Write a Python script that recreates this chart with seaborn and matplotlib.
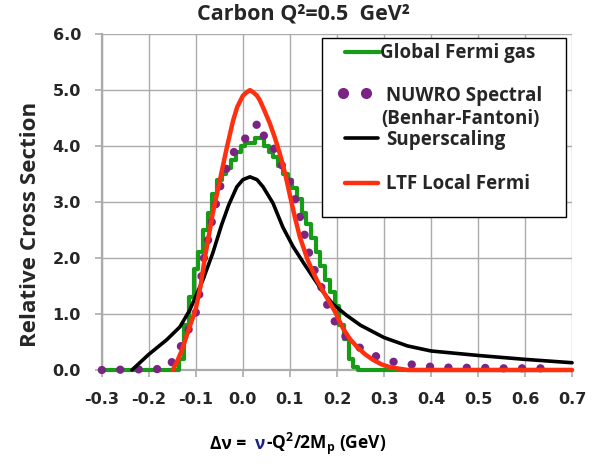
import numpy as np
import pandas as pd
import seaborn as sns
import matplotlib.pyplot as plt
from matplotlib.lines import Line2D
from matplotlib.patches import Rectangle

sns.set_style('white')
plt.rcParams['font.family'] = ['Open Sans', 'DejaVu Sans']
plt.rcParams['mathtext.default'] = 'regular'

###data
# Global Fermi gas (stair-step curve)
gfg_x = [-0.30, -0.15, -0.14, -0.13, -0.12, -0.11, -0.10, -0.09, -0.08, -0.07, -0.06,
         -0.05, -0.04, -0.03, -0.02, -0.01, 0.00, 0.01, 0.02, 0.03, 0.04, 0.05,
         0.06, 0.07, 0.08, 0.09, 0.10, 0.11, 0.12, 0.13, 0.14, 0.15, 0.16,
         0.17, 0.18, 0.19, 0.20, 0.21, 0.22, 0.23, 0.24, 0.25, 0.70]
gfg_y = [0.0, 0.0, 0.0, 0.2, 0.8, 1.3, 1.8, 2.1, 2.5, 2.8, 3.15,
         3.4, 3.5, 3.6, 3.75, 3.9, 4.0, 4.05, 4.05, 4.15, 4.15, 4.0,
         3.9, 3.8, 3.65, 3.5, 3.4, 3.25, 3.05, 2.8, 2.6, 2.35, 2.1,
         1.85, 1.6, 1.4, 1.15, 0.8, 0.55, 0.2, 0.05, 0.0, 0.0]

# NUWRO Spectral (Benhar-Fantoni)
nuwro_x = [-0.30, -0.16, -0.143, -0.127, -0.113, -0.098, -0.09, -0.085, -0.077, -0.066,
           -0.055, -0.045, -0.032, -0.017, -0.002, 0.008, 0.021, 0.036, 0.047, 0.062,
           0.072, 0.094, 0.105, 0.117, 0.125, 0.135, 0.146, 0.16, 0.174, 0.185,
           0.202, 0.223, 0.255, 0.287, 0.323, 0.366, 0.408, 0.45, 0.50, 0.55,
           0.60, 0.67]
nuwro_y = [0.0, 0.02, 0.25, 0.5, 0.77, 1.07, 1.5, 1.93, 2.2, 2.65,
           3.05, 3.39, 3.66, 3.93, 4.12, 4.14, 4.32, 4.43, 4.12, 4.07,
           3.79, 3.52, 3.2, 2.9, 2.6, 2.3, 1.9, 1.65, 1.30, 1.02,
           0.77, 0.55, 0.36, 0.23, 0.14, 0.09, 0.05, 0.04, 0.04, 0.03,
           0.03, 0.03]

# Superscaling
ss_x = [-0.236, -0.2, -0.162, -0.134, -0.113, -0.085, -0.064, -0.045, -0.03, -0.013,
        0.0, 0.015, 0.03, 0.043, 0.064, 0.085, 0.107, 0.13, 0.149, 0.17,
        0.191, 0.22, 0.25, 0.3, 0.35, 0.4, 0.45, 0.5, 0.6, 0.7]
ss_y = [0.0, 0.28, 0.54, 0.77, 1.07, 1.61, 2.09, 2.6, 2.95, 3.27,
        3.4, 3.45, 3.4, 3.27, 2.98, 2.55, 2.2, 1.9, 1.66, 1.4,
        1.18, 0.98, 0.8, 0.58, 0.43, 0.34, 0.3, 0.26, 0.19, 0.13]

# LTF Local Fermi
ltf_x = [-0.149, -0.14, -0.13, -0.12, -0.11, -0.10, -0.09, -0.081, -0.064, -0.049,
         -0.034, -0.021, -0.012, 0.0, 0.008, 0.015, 0.022, 0.03, 0.036, 0.045,
         0.057, 0.068, 0.079, 0.09, 0.10, 0.11, 0.121, 0.138, 0.157, 0.178,
         0.196, 0.213, 0.228, 0.243, 0.26, 0.277, 0.295, 0.313, 0.35, 0.70]
ltf_y = [0.0, 0.15, 0.35, 0.6, 0.85, 1.1, 1.5, 2.0, 2.8, 3.39,
         3.98, 4.45, 4.7, 4.9, 4.96, 5.0, 4.96, 4.9, 4.82, 4.65,
         4.41, 4.15, 3.85, 3.5, 3.12, 2.75, 2.38, 1.96, 1.61, 1.3,
         1.04, 0.74, 0.55, 0.41, 0.28, 0.18, 0.1, 0.05, 0.0, 0.0]

xticks = [-0.3, -0.2, -0.1, 0.0, 0.1, 0.2, 0.3, 0.4, 0.5, 0.6, 0.7]
yticks = [0.0, 1.0, 2.0, 3.0, 4.0, 5.0, 6.0]

green = '#169C16'
purple = '#7A2584'
red = '#FF3010'
navy = '#1A237E'
gridc = '#ABABAB'

fig = plt.figure(figsize=(5.99, 4.67), dpi=100)
ax = fig.add_axes([0.170, 0.2077, 0.785, 0.7193])

sns.lineplot(x=gfg_x, y=gfg_y, ax=ax, color=green, lw=3, drawstyle='steps-mid',
             estimator=None, sort=False, clip_on=False, zorder=3)
sns.lineplot(x=nuwro_x, y=nuwro_y, ax=ax, color=purple, lw=6,
             linestyle=(0, (0.01, 2.2)), dash_capstyle='round',
             estimator=None, sort=False, clip_on=False, zorder=4)
sns.lineplot(x=ss_x, y=ss_y, ax=ax, color='black', lw=2.6,
             estimator=None, sort=False, clip_on=False, zorder=5)
sns.lineplot(x=ltf_x, y=ltf_y, ax=ax, color=red, lw=3.2,
             estimator=None, sort=False, clip_on=False, zorder=6)

ax.set_xlim(-0.3, 0.7)
ax.set_ylim(0, 6)
ax.set_xticks(xticks)
ax.set_yticks(yticks)
ax.set_xticklabels(['%.1f' % v for v in xticks], fontfamily='DejaVu Sans',
                   fontweight='bold', fontsize=11.5)
ax.set_yticklabels(['%.1f' % v for v in yticks], fontfamily='DejaVu Sans',
                   fontweight='bold', fontsize=11.5)
ax.grid(True, color=gridc, lw=1)
ax.set_axisbelow(True)
for s in ['top', 'right']:
    ax.spines[s].set_visible(False)
for s in ['left', 'bottom']:
    ax.spines[s].set_color(gridc)
    ax.spines[s].set_linewidth(1.6)
ax.tick_params(axis='x', direction='out', length=5, width=1.2, color=gridc, pad=11)
ax.tick_params(axis='y', direction='out', length=5, width=1.2, color=gridc, pad=10)
ax.tick_params(bottom=True, left=True)

ax.set_xlabel('')
ax.set_ylabel('Relative Cross Section', fontsize=16.1, fontweight='bold')
ax.yaxis.set_label_coords(-0.129, 0.432)

fig.text(0.506, 0.9593, 'Carbon Q\u00b2=0.5  GeV\u00b2', ha='center', va='baseline',
         fontsize=15.5, fontweight='bold')

###legend (drawn by hand to keep the uneven spacing)
ax.add_patch(Rectangle((0.468, 0.455), 0.519, 0.533, transform=ax.transAxes,
                       facecolor='white', edgecolor='black', lw=1, zorder=10, clip_on=False))
ax.add_line(Line2D([0.517, 0.591], [0.946, 0.946], transform=ax.transAxes,
                   color=green, lw=3, zorder=11))
ax.add_line(Line2D([0.513, 0.562], [0.824, 0.824], transform=ax.transAxes, ls='none',
                   marker='o', ms=8, mec='none', color=purple, zorder=11))
ax.add_line(Line2D([0.517, 0.587], [0.690, 0.690], transform=ax.transAxes,
                   color='black', lw=2.6, zorder=11))
ax.add_line(Line2D([0.517, 0.587], [0.557, 0.557], transform=ax.transAxes,
                   color=red, lw=3.2, zorder=11))
leg_txt = [(0.591, 0.944, 'Global Fermi gas'),
           (0.604, 0.815, 'NUWRO Spectral'),
           (0.594, 0.747, '(Benhar-Fantoni)'),
           (0.604, 0.685, 'Superscaling'),
           (0.604, 0.554, 'LTF Local Fermi')]
for x, y, t in leg_txt:
    ax.text(x, y, t, transform=ax.transAxes, ha='left', va='center',
            fontsize=13.5, fontweight='bold', zorder=12)

###x label with blue nu
fig.canvas.draw()
r = fig.canvas.get_renderer()
xl = 0.351
yl = 0.038
parts = [('\u0394\u03bd =  ', 'black'), ('\u03bd', navy), ('-Q$^2$/2M$_p$ (GeV)', 'black')]
for t, c in parts:
    tx = fig.text(xl, yl, t, ha='left', va='baseline', fontsize=12.5,
                  fontweight='bold', color=c)
    bb = tx.get_window_extent(r)
    xl = bb.x1 / fig.bbox.width

fig.savefig('out.png', dpi=100)
